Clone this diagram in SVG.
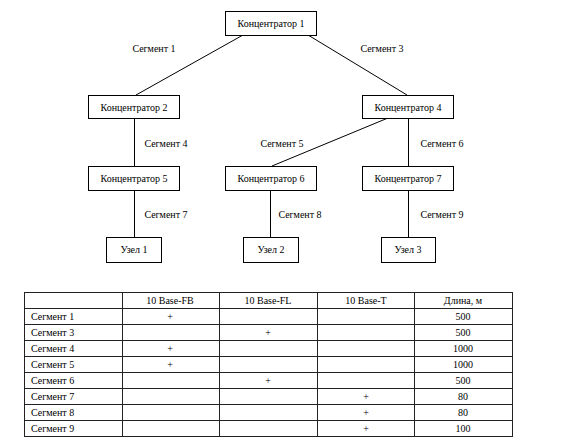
<svg xmlns="http://www.w3.org/2000/svg" width="562" height="447" viewBox="0 0 562 447">
<style>
.n{fill:#fff;stroke:#000;stroke-width:1}
.t{font-family:"Liberation Serif","Times New Roman",serif;font-size:10px;fill:#000}
.c{text-anchor:middle}
.e{stroke:#000;stroke-width:1;fill:none}
.g{stroke:#222;stroke-width:1}
</style>
<rect width="562" height="447" fill="#fff"/>
<g id="connectors">
<line class="e" x1="243" y1="35" x2="136" y2="95"/>
<line class="e" x1="308" y1="35" x2="407" y2="95"/>
<line class="e" x1="134.5" y1="118" x2="134.5" y2="166"/>
<line class="e" x1="388" y1="118" x2="272" y2="166"/>
<line class="e" x1="408.5" y1="118" x2="408.5" y2="166"/>
<line class="e" x1="134.5" y1="190" x2="134.5" y2="237"/>
<line class="e" x1="270.5" y1="190" x2="270.5" y2="237"/>
<line class="e" x1="408.5" y1="190" x2="408.5" y2="237"/>
<text class="t c" x="154" y="52">Сегмент 1</text>
<text class="t c" x="382" y="52">Сегмент 3</text>
<text class="t c" x="166" y="147">Сегмент 4</text>
<text class="t c" x="282" y="147">Сегмент 5</text>
<text class="t c" x="442" y="147">Сегмент 6</text>
<text class="t c" x="166" y="218">Сегмент 7</text>
<text class="t c" x="300" y="218">Сегмент 8</text>
<text class="t c" x="442" y="218">Сегмент 9</text>
</g>
<g id="hub1"><rect class="n" x="225.5" y="11.5" width="91" height="24"/><text class="t c" x="271" y="27">Концентратор 1</text></g>
<g id="hub2"><rect class="n" x="88.5" y="95.5" width="91" height="23"/><text class="t c" x="134" y="111">Концентратор 2</text></g>
<g id="hub4"><rect class="n" x="362.5" y="95.5" width="91" height="23"/><text class="t c" x="408" y="111">Концентратор 4</text></g>
<g id="hub5"><rect class="n" x="88.5" y="166.5" width="91" height="24"/><text class="t c" x="134" y="182">Концентратор 5</text></g>
<g id="hub6"><rect class="n" x="225.5" y="166.5" width="91" height="24"/><text class="t c" x="271" y="182">Концентратор 6</text></g>
<g id="hub7"><rect class="n" x="362.5" y="166.5" width="91" height="24"/><text class="t c" x="408" y="182">Концентратор 7</text></g>
<g id="node1"><rect class="n" x="106.5" y="237.5" width="55" height="25"/><text class="t c" x="134" y="253">Узел 1</text></g>
<g id="node2"><rect class="n" x="243.5" y="237.5" width="55" height="25"/><text class="t c" x="271" y="253">Узел 2</text></g>
<g id="node3"><rect class="n" x="381.5" y="237.5" width="54" height="25"/><text class="t c" x="408" y="253">Узел 3</text></g>
<g id="table">
<rect class="g" x="24.5" y="292.5" width="488" height="144" fill="none"/>
<g class="g">
<line x1="122.5" y1="292" x2="122.5" y2="437"/>
<line x1="219.5" y1="292" x2="219.5" y2="437"/>
<line x1="317.5" y1="292" x2="317.5" y2="437"/>
<line x1="414.5" y1="292" x2="414.5" y2="437"/>
<line x1="24" y1="308.5" x2="513" y2="308.5"/>
<line x1="24" y1="324.5" x2="513" y2="324.5"/>
<line x1="24" y1="340.5" x2="513" y2="340.5"/>
<line x1="24" y1="356.5" x2="513" y2="356.5"/>
<line x1="24" y1="372.5" x2="513" y2="372.5"/>
<line x1="24" y1="388.5" x2="513" y2="388.5"/>
<line x1="24" y1="404.5" x2="513" y2="404.5"/>
<line x1="24" y1="420.5" x2="513" y2="420.5"/>
</g>
<text class="t c" x="170" y="304">10 Base-FB</text>
<text class="t c" x="268" y="304">10 Base-FL</text>
<text class="t c" x="366" y="304">10 Base-T</text>
<text class="t c" x="463" y="304">Длина, м</text>
<text class="t" x="31" y="320">Сегмент 1</text><text class="t c" x="170" y="320">+</text><text class="t c" x="463" y="320">500</text>
<text class="t" x="31" y="336">Сегмент 3</text><text class="t c" x="268" y="336">+</text><text class="t c" x="463" y="336">500</text>
<text class="t" x="31" y="352">Сегмент 4</text><text class="t c" x="170" y="352">+</text><text class="t c" x="463" y="352">1000</text>
<text class="t" x="31" y="368">Сегмент 5</text><text class="t c" x="170" y="368">+</text><text class="t c" x="463" y="368">1000</text>
<text class="t" x="31" y="384">Сегмент 6</text><text class="t c" x="268" y="384">+</text><text class="t c" x="463" y="384">500</text>
<text class="t" x="31" y="400">Сегмент 7</text><text class="t c" x="366" y="400">+</text><text class="t c" x="463" y="400">80</text>
<text class="t" x="31" y="416">Сегмент 8</text><text class="t c" x="366" y="416">+</text><text class="t c" x="463" y="416">80</text>
<text class="t" x="31" y="432">Сегмент 9</text><text class="t c" x="366" y="432">+</text><text class="t c" x="463" y="432">100</text>
</g>
</svg>
